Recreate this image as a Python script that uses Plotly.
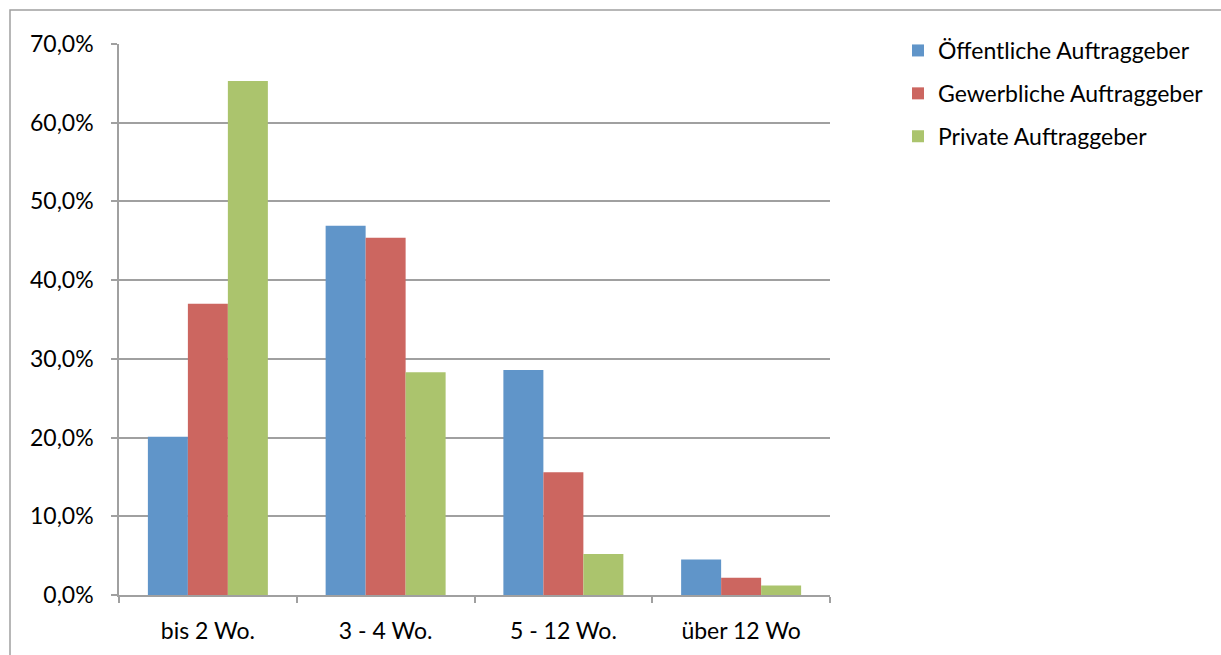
import plotly.graph_objects as go

categories = ["bis 2 Wo.", "3 - 4 Wo.", "5 - 12 Wo.", "über 12 Wo"]
series_names = ["Öffentliche Auftraggeber", "Gewerbliche Auftraggeber", "Private Auftraggeber"]
oeffentlich = [20.1, 46.9, 28.6, 4.5]
gewerblich = [37.0, 45.4, 15.6, 2.2]
privat = [65.3, 28.3, 5.2, 1.2]
colors = ["#6095c9", "#cc6660", "#abc46d"]
y_ticks = [0, 10, 20, 30, 40, 50, 60, 70]
y_tick_labels = ["0,0%", "10,0%", "20,0%", "30,0%", "40,0%", "50,0%", "60,0%", "70,0%"]

W, H = 1221, 655
ml, mr, mt, mb = 119, 391, 44, 60
pw = W - ml - mr
ph = H - mt - mb

fig = go.Figure()
for i, (name, vals) in enumerate(zip(series_names, [oeffentlich, gewerblich, privat])):
    fig.add_trace(go.Bar(
        x=categories, y=vals, name=name, marker=dict(color=colors[i], line=dict(width=0)),
        legendgroup=f"g{i}",
    ))

font = "Lato, Open Sans, sans-serif"
fs = 23
fig.update_layout(
    width=W, height=H,
    margin=dict(l=ml, r=mr, t=mt, b=mb),
    paper_bgcolor="white", plot_bgcolor="white",
    barmode="group", bargap=0.325, bargroupgap=0,
    font=dict(family=font, size=fs, color="black"),
    showlegend=True,
    legend=dict(
        x=(898 - ml) / pw, y=(H - mb - 29) / ph, xanchor="left", yanchor="top",
        font=dict(size=fs), tracegroupgap=10, bgcolor="rgba(0,0,0,0)",
        itemwidth=30,
    ),
    xaxis=dict(
        showline=True, linecolor="#a0a0a0", linewidth=1.5,
        ticks="outside", ticklen=6, tickcolor="#a0a0a0", tickwidth=1.5,
        tickson="boundaries", showgrid=False, tickfont=dict(size=fs),
        ticklabelstandoff=15,
    ),
    yaxis=dict(
        range=[0, 70], tickvals=y_ticks, ticktext=y_tick_labels,
        showline=True, linecolor="#a0a0a0", linewidth=1.5,
        showgrid=True, gridcolor="#a0a0a0", gridwidth=1.5,
        ticks="outside", ticklen=6, tickcolor="#a0a0a0", tickwidth=1.5,
        zeroline=False, tickfont=dict(size=fs), ticklabelstandoff=13,
    ),
)

# outer chart border
fig.add_shape(
    type="rect", xref="paper", yref="paper",
    x0=(10 - ml) / pw, x1=(1240 - ml) / pw,
    y0=(H - mb - 670) / ph, y1=(H - mb - 10) / ph,
    line=dict(color="#a0a0a0", width=1.5), fillcolor="rgba(0,0,0,0)", layer="below",
)

fig.write_html("out.html")
